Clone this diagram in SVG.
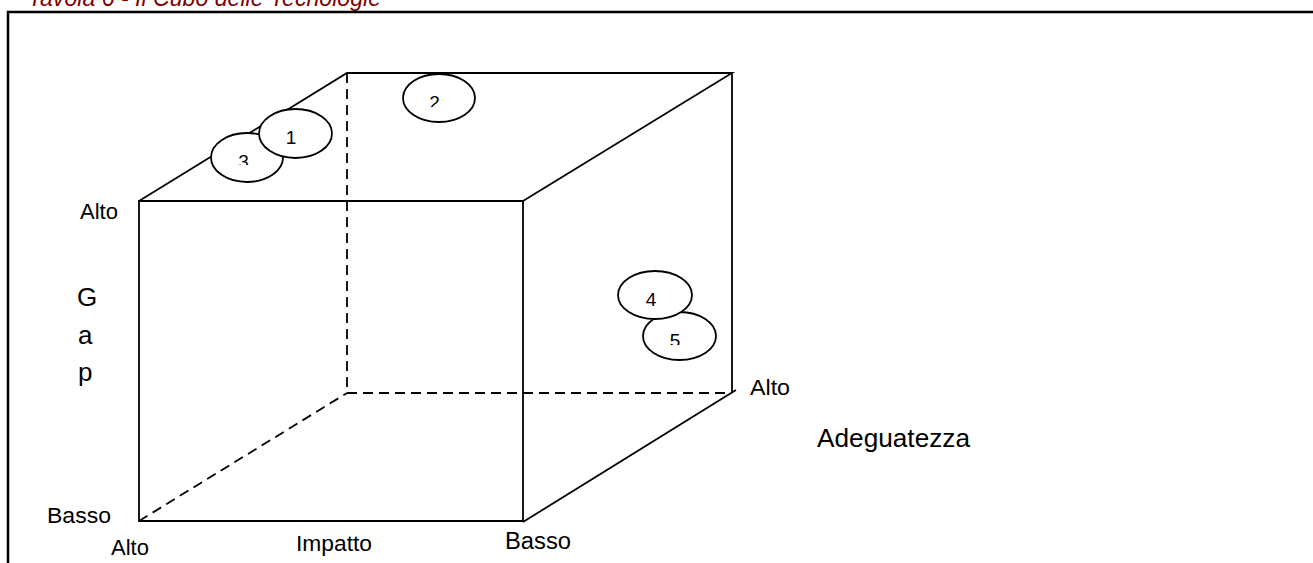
<svg xmlns="http://www.w3.org/2000/svg" width="1313" height="563" viewBox="0 0 1313 563">
<style>
.ln{stroke:#000;stroke-width:1.8;fill:none}
.dash{stroke-dasharray:10 6}
.frame{stroke:#000;stroke-width:2.5;fill:none}
.el{fill:#fff;stroke:#000;stroke-width:1.8}
.t{font-family:"Liberation Sans",Arial,sans-serif;fill:#000}
.d{font-family:"Liberation Sans",Arial,sans-serif;fill:#000;font-size:19px;text-anchor:middle}
.title{font-family:"Liberation Sans",Arial,sans-serif;font-style:italic;fill:#800000}
</style>
<defs>
<clipPath id="c2"><rect x="400" y="70" width="80" height="37"/></clipPath>
<clipPath id="c3"><rect x="205" y="130" width="80" height="35"/></clipPath>
<clipPath id="c5"><rect x="640" y="310" width="80" height="35"/></clipPath>
</defs>
<rect width="1313" height="563" fill="#fff"/>
<text class="title" x="28" y="6" font-size="23" textLength="353" lengthAdjust="spacingAndGlyphs">Tavola 6 - Il Cubo delle Tecnologie</text>
<path class="frame" d="M8,566 V12 H1316"/>
<g id="cube">
<path class="ln" d="M139,201 H523 V521 H139 Z"/>
<path class="ln" d="M139,201 L347,73 H732 L523,201"/>
<path class="ln" d="M732,73 V393"/>
<path class="ln" d="M523,522 L736,390"/>
<path class="ln dash" d="M347,73 V393 H732"/>
<path class="ln dash" d="M139,521 L347,393"/>
</g>
<g id="node3">
<ellipse class="el" cx="247" cy="157.5" rx="36" ry="24.5"/>
<text class="d" x="243.5" y="168" clip-path="url(#c3)">3</text>
</g>
<g id="node1">
<ellipse class="el" cx="295.5" cy="133.5" rx="36.5" ry="24.5"/>
<text class="d" x="291" y="144">1</text>
</g>
<g id="node2">
<ellipse class="el" cx="439" cy="98" rx="36" ry="24"/>
<text class="d" x="434.5" y="109" clip-path="url(#c2)">2</text>
</g>
<g id="node5">
<ellipse class="el" cx="679.5" cy="336" rx="36.5" ry="24"/>
<text class="d" x="675" y="347" clip-path="url(#c5)">5</text>
</g>
<g id="node4">
<ellipse class="el" cx="655" cy="295" rx="37" ry="24"/>
<text class="d" x="651" y="306">4</text>
</g>
<g id="labels">
<text class="t" x="80" y="219" font-size="22">Alto</text>
<text class="t" x="77" y="306" font-size="26">G</text>
<text class="t" x="78" y="344" font-size="26">a</text>
<text class="t" x="78" y="381" font-size="26">p</text>
<text class="t" x="47" y="523" font-size="22" textLength="64" lengthAdjust="spacingAndGlyphs">Basso</text>
<text class="t" x="111" y="555" font-size="22">Alto</text>
<text class="t" x="296" y="551" font-size="22.5" textLength="76" lengthAdjust="spacingAndGlyphs">Impatto</text>
<text class="t" x="505" y="549" font-size="23" textLength="66" lengthAdjust="spacingAndGlyphs">Basso</text>
<text class="t" x="750" y="395" font-size="22" textLength="40" lengthAdjust="spacingAndGlyphs">Alto</text>
<text class="t" x="817" y="447" font-size="25" textLength="153" lengthAdjust="spacingAndGlyphs">Adeguatezza</text>
</g>
</svg>
